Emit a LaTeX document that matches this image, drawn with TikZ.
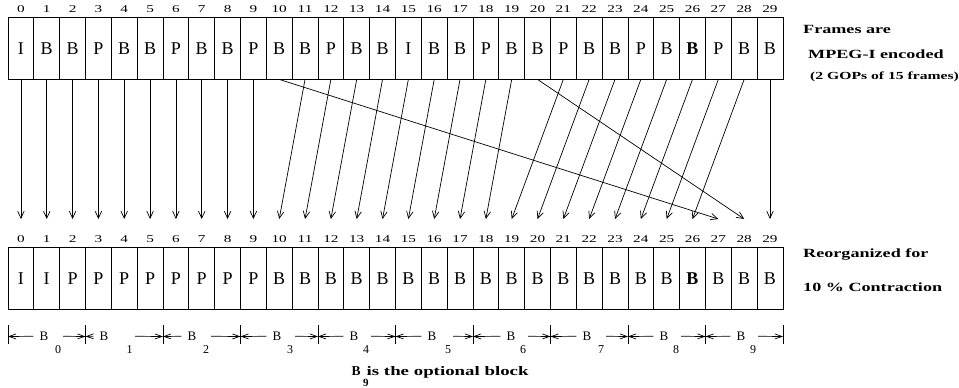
\documentclass[tikz,border=0pt]{standalone}
\usepackage{fontspec}
\setmainfont{Liberation Serif}
\newfontfamily\widefont[FakeStretch=1.45]{Liberation Serif}
\usetikzlibrary{arrows.meta}

\begin{document}
\begin{tikzpicture}[
    x=1pt, y=-1pt,
    frame/.style={draw, line width=0.8pt, minimum width=25.83pt, minimum height=61.3pt, inner sep=0pt, font=\fontsize{18}{20}\selectfont},
    idx/.style={font=\widefont\fontsize{10.5}{12}\selectfont, inner sep=0pt},
    arr/.style={-{Straight Barb[length=7pt,width=6.5pt]}, line width=0.7pt},
    barr/.style={-{Straight Barb[length=7pt,width=5pt]}, line width=0.7pt},
    tick/.style={line width=0.8pt},
    blk/.style={font=\fontsize{13}{15}\selectfont, inner xsep=6pt, inner ysep=0pt, anchor=base},
    bsub/.style={font=\fontsize{12}{14}\selectfont, inner xsep=2pt, inner ysep=0pt, anchor=base},
    note/.style={font=\widefont\bfseries\fontsize{12.5}{14}\selectfont, anchor=base west, inner sep=0pt},
]
\useasboundingbox (0,0) rectangle (959,388);

% encoded frames, two GOPs
\foreach \f [count=\i from 0] in {I,B,B,P,B,B,P,B,B,P,B,B,P,B,B,I,B,B,P,B,B,P,B,B,P,B,\textbf{B},P,B,B} {
  \node[frame] (top\i) at ({8+25.83*(\i+0.5)}, 48.35) {\f};
  \node[idx] (tn\i) at ({8+25.83*(\i+0.5)}, 9.5) {\i};
}

% reorganized frames
\foreach \f [count=\i from 0] in {I,I,P,P,P,P,P,P,P,P,B,B,B,B,B,B,B,B,B,B,B,B,B,B,B,B,\textbf{B},B,B,B} {
  \node[frame] (bot\i) at ({8+25.83*(\i+0.5)}, 278.35) {\f};
  \node[idx] (bn\i) at ({8+25.83*(\i+0.5)}, 239) {\i};
  \coordinate (in\i) at ({8+25.83*(\i+0.5)}, 219);
}

% mapping
\foreach \i in {0,...,9} \draw[arr] (top\i.south) -- (in\i);
\draw[arr] (top29.south) -- (in29);
\foreach \i [evaluate=\i as \j using int(\i-1)] in {11,...,19} \draw[arr] (top\i.south) -- (in\j);
\foreach \i [evaluate=\i as \j using int(\i-2)] in {21,...,28} \draw[arr] (top\i.south) -- (in\j);
\draw[arr] (top10.south) -- (in27);
\draw[arr] (top20.south) -- (in28);

% blocks
\foreach \k in {0,...,10} {
  \coordinate (bk\k) at ({8+77.5*\k}, 336.5);
  \draw[tick] ([yshift=11.5pt]bk\k) -- ([yshift=-7.5pt]bk\k);
}
\foreach \k/\dx/\sx in {0/32/15, 1/14.5/26.7, 2/25/15, 3/32.5/14, 4/32/13, 5/32.5/17, 6/34/13, 7/32.5/15, 8/32/13, 9/31.5/13} {
  \node[blk] (bl\k) at ({8+77.5*\k+\dx+4}, 340.5) {B};
  \node[bsub] (bs\k) at ({8+77.5*\k+\dx+\sx+3}, 353) {\k};
}
\foreach \k [evaluate=\k as \n using int(\k+1)] in {0,...,9} {
  \draw[barr] (bl\k.west) -- (bk\k);
  \draw[barr] (bs\k.east |- bl\k.east) -- (bk\n);
}

\node[font=\bfseries\fontsize{13.5}{15}\selectfont, anchor=base west, inner sep=0pt] (optB) at (351.5, 375.7) {B};
\node[font=\bfseries\fontsize{11}{12}\selectfont, anchor=base west, inner sep=0pt] (optS) at (363, 386.7) {9};
\node[note, font=\widefont\bfseries\fontsize{13}{15}\selectfont] (optT) at (366.5, 375.7) {is the optional block};

\node[note] (enc1) at (803, 33.3) {Frames are};
\node[note] (enc2) at (808, 58.5) {MPEG-I encoded};
\node[note, font=\widefont\bfseries\fontsize{10.8}{13}\selectfont] (enc3) at (810, 79.5) {(2 GOPs of 15 frames)};
\node[note] (reo1) at (803, 257.7) {Reorganized for};
\node[note] (reo2) at (803, 291) {10 \% Contraction};
\end{tikzpicture}
\end{document}
